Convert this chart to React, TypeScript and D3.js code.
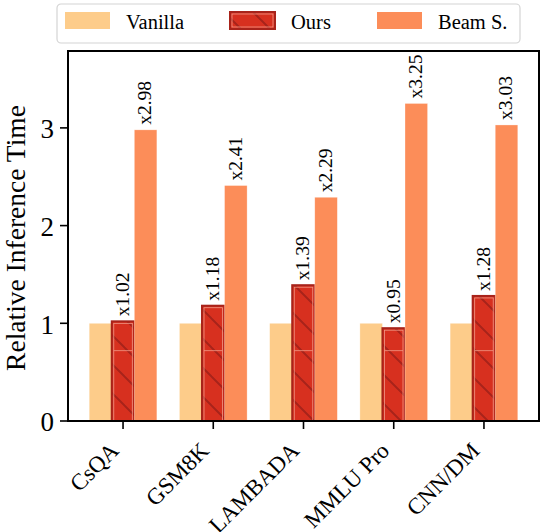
import React from "react";
import * as d3 from "d3";

const categories = ["CsQA", "GSM8K", "LAMBADA", "MMLU Pro", "CNN/DM"];
const vanilla = [1, 1, 1, 1, 1];
const ours = [1.02, 1.18, 1.39, 0.95, 1.28];
const beam = [2.98, 2.41, 2.29, 3.25, 3.03];
const yTicks = [0, 1, 2, 3];
const legendNames = ["Vanilla", "Ours", "Beam S."];

const W = 550;
const H = 532;
const font = "'Liberation Serif', 'Times New Roman', serif";
const colors = { vanilla: "#fdcc8a", ours: "#d7301f", beam: "#fc8d59" };
const oursEdge = "#a8231a";
const hatchSeam = 0.72;

const App: React.FC = () => {
  const x = d3.scaleLinear().domain([-0.61, categories.length - 1 + 0.61]).range([68, 539]);
  const y = d3.scaleLinear().domain([0, 3.787]).range([421, 51]);
  const barW = (x(1) - x(0)) * 0.25;

  const series = [
    { key: "vanilla", values: vanilla, off: -1 },
    { key: "ours", values: ours, off: 0 },
    { key: "beam", values: beam, off: 1 },
  ];

  return (
    <svg width={W} height={H} style={{ position: "absolute", left: 0, top: 0, background: "#fff" }}
      fontFamily={font}>
      <defs>
        <pattern id="hatch" patternUnits="userSpaceOnUse" width={29} height={29} x={9} y={0}>
          <line x1={-2} y1={-2} x2={31} y2={31} stroke={oursEdge} strokeWidth={2} />
          <line x1={-31} y1={-2} x2={2} y2={31} stroke={oursEdge} strokeWidth={2} />
          <line x1={27} y1={-2} x2={60} y2={31} stroke={oursEdge} strokeWidth={2} />
        </pattern>
      </defs>

      {/* bars */}
      {series.map(s => (
        <g key={s.key}>
          {s.values.map((v, i) => {
            const cx = x(i) + s.off * barW;
            const x0 = cx - barW / 2;
            const top = y(v);
            const h = y(0) - top;
            if (s.key !== "ours") {
              return (
                <rect key={i} x={x0} y={top} width={barW} height={h}
                  fill={(colors as any)[s.key]} stroke="#fff" strokeOpacity={0.5} strokeWidth={0.6} />
              );
            }
            return (
              <g key={i}>
                <rect x={x0} y={top} width={barW} height={h} fill={colors.ours} />
                <rect x={x0} y={top} width={barW} height={h} fill="url(#hatch)" />
                <line x1={x0 + 2} x2={x0 + barW - 2} y1={y(hatchSeam)} y2={y(hatchSeam)}
                  stroke="#f09a88" strokeWidth={0.8} />
                <rect x={x0 + 2} y={top + 2} width={barW - 4} height={h - 2}
                  fill="none" stroke="#f09a88" strokeWidth={0.8} />
                <rect x={x0} y={top} width={barW} height={h} fill="none" stroke={oursEdge} strokeWidth={2} />
              </g>
            );
          })}
        </g>
      ))}

      {/* value labels */}
      {series.filter(s => s.key !== "vanilla").map(s =>
        s.values.map((v, i) => {
          const cx = x(i) + s.off * barW;
          const ty = y(v) - 5;
          return (
            <text key={s.key + i} transform={`translate(${cx},${ty}) rotate(-90)`}
              dy="0.3em" fontSize={19.5} textAnchor="start" fill="#000">
              {"x" + d3.format(".2f")(v)}
            </text>
          );
        })
      )}

      {/* frame */}
      <rect x={x.range()[0]} y={y.range()[1]} width={x.range()[1] - x.range()[0]}
        height={y.range()[0] - y.range()[1]} fill="none" stroke="#000" strokeWidth={2} />

      {/* y axis */}
      {yTicks.map(t => (
        <g key={t} transform={`translate(${x.range()[0]},${y(t)})`}>
          <line x1={-8} x2={0} stroke="#000" strokeWidth={1.6} />
          <text x={-14} dy="0.38em" fontSize={27} textAnchor="end">{t}</text>
        </g>
      ))}
      <text transform={`translate(25,238) rotate(-90)`}
        textAnchor="middle" fontSize={27.5}>Relative Inference Time</text>

      {/* x axis */}
      {categories.map((c, i) => (
        <g key={c} transform={`translate(${x(i)},${y(0)})`}>
          <line y1={0} y2={8} stroke="#000" strokeWidth={1.6} />
          <text transform="translate(-3,31) rotate(-45)" textAnchor="end" fontSize={23}>{c}</text>
        </g>
      ))}

      {/* legend */}
      <g>
        <rect x={57} y={4} width={463} height={39} rx={4} fill="#fff" fillOpacity={0.9}
          stroke="#d4d4d4" strokeWidth={1.2} />
        {legendNames.map((n, i) => {
          const px = [65, 230, 377][i];
          const key = ["vanilla", "ours", "beam"][i];
          return (
            <g key={n}>
              {key === "ours" ? (
                <g>
                  <rect x={px} y={12} width={45} height={17} fill={colors.ours} />
                  <rect x={px} y={12} width={45} height={17} fill="url(#hatch)" />
                  <rect x={px + 2} y={14} width={41} height={13} fill="none" stroke="#f09a88" strokeWidth={0.8} />
                  <rect x={px} y={12} width={45} height={17} fill="none" stroke={oursEdge} strokeWidth={2} />
                </g>
              ) : (
                <rect x={px} y={12} width={45} height={17} fill={(colors as any)[key]} />
              )}
              <text x={px + 61} y={28.5} fontSize={20.5}>{n}</text>
            </g>
          );
        })}
      </g>
    </svg>
  );
};

export default App;
